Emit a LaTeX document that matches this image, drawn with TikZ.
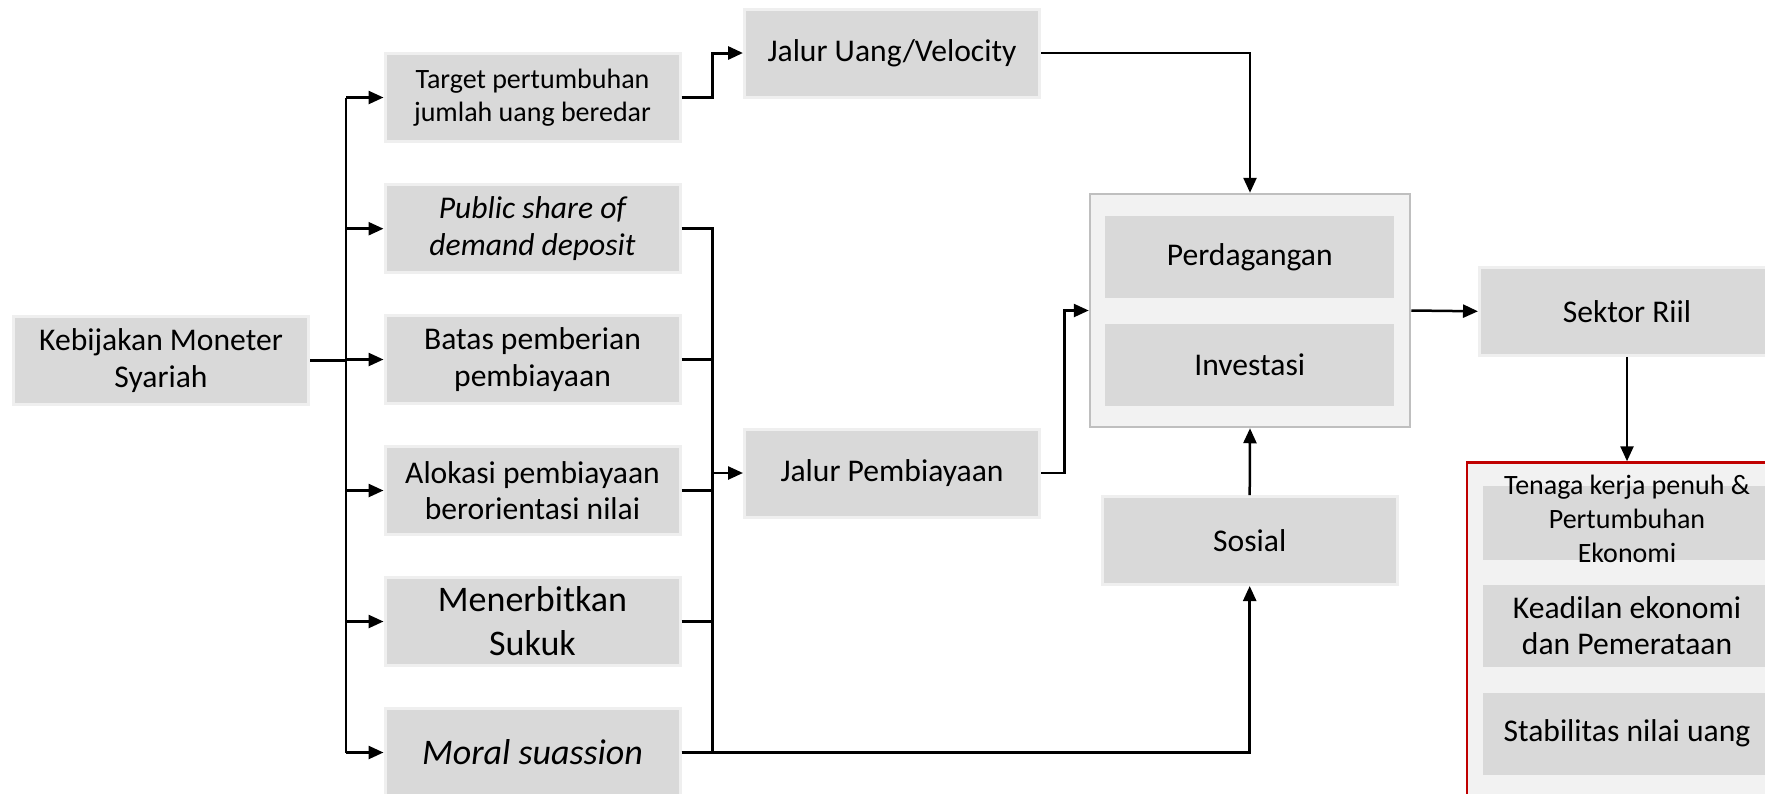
\documentclass[tikz,border=0pt]{standalone}
\usepackage{fontspec}
\setmainfont{Carlito}
\usetikzlibrary{arrows.meta}
\definecolor{boxgray}{HTML}{D9D9D9}
\definecolor{rimgray}{HTML}{EFEFEF}
\definecolor{panel}{HTML}{F2F2F2}
\definecolor{panelrim}{HTML}{BFBFBF}
\definecolor{redrim}{HTML}{C00000}
\newcommand\fsnorm{\fontsize{31.6}{36.6}\selectfont}
\newcommand\fssmall{\fontsize{28}{32.6}\selectfont}
\newcommand\fstiny{\fontsize{28}{34}\selectfont}
\newcommand\fslarge{\fontsize{36}{44}\selectfont}
\begin{document}
\begin{tikzpicture}[x=1pt,y=-1pt,
  box/.style={fill=boxgray, draw=rimgray, line width=3pt, minimum width=295pt,
    minimum height=88pt, inner sep=0pt, align=center, font=\fsnorm},
  panelbox/.style={fill=panel, draw=panelrim, line width=2.5pt, inner sep=0pt},
  redbox/.style={fill=panel, draw=redrim, line width=2.5pt, inner sep=0pt},
  conn/.style={line width=2.5pt, draw=black},
  thickconn/.style={conn, line width=3.5pt},
  arr/.style={conn, -{Triangle[length=15pt,width=13pt]}}]
\useasboundingbox (0,0) rectangle (1765,793);
\clip (0,0) rectangle (1765,793);
% left
\node[box] (keb) at (161,360.5) {Kebijakan Moneter\\Syariah};
\node[box, font=\fssmall] (tgt) at (532.5,97.5) {Target pertumbuhan\\jumlah uang beredar};
\node[box, font={\fsnorm\itshape}] (pub) at (532.5,228.7) {Public share of\\demand deposit};
\node[box] (bat) at (532.5,359.5) {Batas pemberian\\pembiayaan};
\node[box] (alo) at (532.5,490.5) {Alokasi pembiayaan\\berorientasi nilai};
\node[box, font=\fslarge] (ter) at (532.5,621.5) {Menerbitkan\\Sukuk};
\node[box, font={\fslarge\itshape}] (mor) at (532.5,752.5) {Moral suassion};
% middle
\node[box] (ju) at (892,53) {Jalur Uang/Velocity};
\node[box] (jp) at (892,473) {Jalur Pembiayaan};
\node[panelbox, minimum width=320pt, minimum height=233pt] (big) at (1250,310.5) {};
\node[box, draw=panel, minimum width=292pt, minimum height=85pt] (per) at (1249.75,257.2) {Perdagangan};
\node[box, draw=panel, minimum width=292pt, minimum height=85pt] (inv) at (1249.75,365) {Investasi};
\node[box] (sos) at (1249.7,540.5) {Sosial};
% right
\node[box] (sek) at (1627,311.3) {Sektor Riil};
\node[redbox, minimum width=320pt, minimum height=334pt] (red) at (1627,629.5) {};
\node[box, draw=panel, minimum width=292pt, minimum height=77pt] (ten) at (1627,522.8) {};
\node[font=\fstiny, align=center, inner sep=0pt] (tent) at (1627,519) {Tenaga kerja penuh \&\\Pertumbuhan\\Ekonomi};
\node[box, draw=panel, minimum width=292pt, minimum height=85pt] (kea) at (1627,625.8) {Keadilan ekonomi\\dan Pemerataan};
\node[box, draw=panel, minimum width=292pt, minimum height=85pt] (sta) at (1627,733.5) {Stabilitas nilai uang};
% connectors
\coordinate (tr) at (346,0);
\coordinate (cl) at (712.5,0);
\coordinate (jpk) at (1064.4,0);
\draw[thickconn] (keb.east) -- (tr |- keb.east);
\draw[conn] (tr |- tgt.west) -- (tr |- mor.west);
\foreach \n in {tgt,pub,bat,alo,ter,mor} \draw[arr] (tr |- \n.west) -- (\n.west);
\draw[conn] (pub.east) -- (cl |- pub.east) -- (cl |- mor.east);
\foreach \n in {bat,alo,ter} \draw[conn] (\n.east) -- (cl |- \n.east);
\draw[thickconn] (mor.east) -- (cl |- mor.east);
\draw[arr] (cl |- jp.west) -- (jp.west);
\draw[arr, line width=3pt] (tgt.east) -- (cl |- tgt.east) -- (cl |- ju.west) -- (ju.west);
\draw[arr] (ju.east) -| (big.north);
\draw[arr] (jp.east) -- (jpk |- jp.east) -- (jpk |- big.west) -- (big.west);
\draw[arr] (sos.north) -- (big.south);
\draw[arr] (mor.east) -| (sos.south);
\draw[arr] (big.east) -- (sek.west);
\draw[arr] (sek.south) -- (red.north);
\end{tikzpicture}
\end{document}
